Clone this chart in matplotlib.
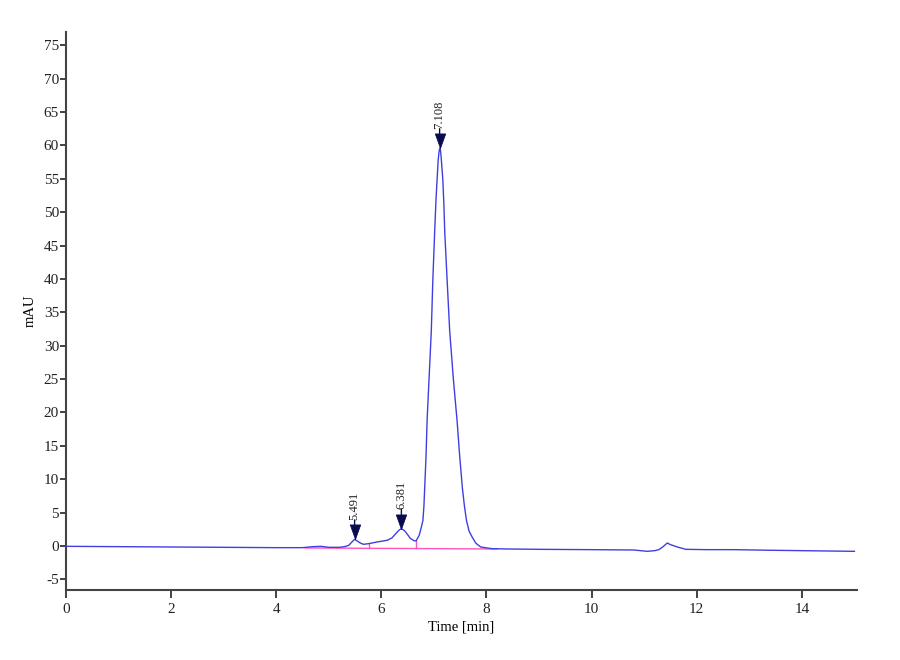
import numpy as np
import matplotlib
matplotlib.use("Agg")
import matplotlib.pyplot as plt

# chromatogram trace (time in min, signal in mAU)
time_min = [0.0, 1.0, 2.0, 3.0, 4.0, 4.5, 4.7, 4.85, 5.0, 5.2, 5.3, 5.38, 5.44,
            5.49, 5.55, 5.6, 5.66, 5.76, 5.92, 6.11, 6.2, 6.28, 6.34, 6.38,
            6.44, 6.5, 6.55, 6.62, 6.66, 6.72, 6.76, 6.79, 6.81, 6.825, 6.85,
            6.87, 6.91, 6.95, 6.98, 7.015, 7.04, 7.06, 7.08, 7.095, 7.11,
            7.125, 7.14, 7.17, 7.19, 7.205, 7.25, 7.3, 7.37, 7.44, 7.49, 7.54,
            7.58, 7.62, 7.67, 7.73, 7.8, 7.89, 8.1, 8.4, 9.0, 10.0, 10.8,
            11.06, 11.2, 11.28, 11.36, 11.44, 11.5, 11.54, 11.63, 11.7, 11.79,
            12.2, 12.7, 13.5, 14.49, 15.0]
mau = [-0.05, -0.1, -0.15, -0.2, -0.25, -0.25, -0.1, -0.05, -0.2, -0.2, -0.1,
       0.1, 0.6, 1.0, 0.7, 0.45, 0.25, 0.35, 0.6, 0.85, 1.2, 1.9, 2.4, 2.6,
       2.3, 1.7, 1.15, 0.8, 0.75, 1.6, 2.8, 3.8, 6.0, 8.8, 13.5, 18.8, 25.5,
       32.2, 40.0, 47.2, 52.0, 54.8, 57.7, 58.9, 59.6, 59.3, 58.0, 54.8, 51.0,
       47.2, 40.0, 32.2, 25.0, 18.8, 13.5, 8.8, 6.0, 3.8, 2.2, 1.3, 0.4,
       -0.15, -0.4, -0.45, -0.5, -0.55, -0.6, -0.8, -0.7, -0.55, -0.1, 0.45,
       0.2, 0.1, -0.15, -0.3, -0.5, -0.55, -0.55, -0.65, -0.75, -0.8]

# integration baseline and drop lines
base_t = [4.55, 8.2]
base_v = [-0.3, -0.45]
drop_t = [5.76, 6.66]
drop_lo = [-0.33, -0.36]
drop_hi = [0.35, 0.75]

# labelled peaks
peak_t = [5.491, 6.381, 7.108]
peak_v = [1.0, 2.6, 59.6]
peak_labels = ["5.491", "6.381", "7.108"]

xticks = [0, 2, 4, 6, 8, 10, 12, 14]
yticks = [-5, 0, 5, 10, 15, 20, 25, 30, 35, 40, 45, 50, 55, 60, 65, 70, 75]

plt.rcParams["font.family"] = ["Liberation Serif", "DejaVu Serif"]
plt.rcParams["axes.unicode_minus"] = False

fig = plt.figure(figsize=(9, 6.6), dpi=100)
ax = fig.add_axes([0.0733, 0.106, 0.879, 0.8455])

ax.plot(base_t, base_v, color="#ff55bb", lw=1.0, zorder=2)
for t, lo, hi in zip(drop_t, drop_lo, drop_hi):
    ax.plot([t, t], [lo, hi], color="#ff55bb", lw=1.0, zorder=2)

ax.plot(time_min, mau, color="#3f3fe0", lw=1.0, zorder=3)

# downward triangle with its tip on the apex
tri = [(0, 0), (-0.36, 1), (0.36, 1), (0, 0)]
ax.plot(peak_t, peak_v, linestyle="none", marker=tri, markersize=21,
        color="#0a0a50", markeredgewidth=0.5, zorder=4)
for t, v, lab in zip(peak_t, peak_v, peak_labels):
    ax.annotate("", xy=(t, v), xytext=(0, 14), textcoords="offset points",
                arrowprops=dict(arrowstyle="-", color="#0a0a50", lw=1.0,
                                shrinkA=0, shrinkB=9))
    ax.annotate(lab, xy=(t, v), xytext=(0, 14), textcoords="offset points",
                rotation=90, ha="center", va="bottom", fontsize=9,
                color="#222222")

ax.set_xlim(0, 15.05)
ax.set_ylim(-6.6, 77)
ax.set_xticks(xticks)
ax.set_yticks(yticks)
ax.tick_params(axis="both", direction="out", labelsize=11, colors="#222222")
ax.tick_params(axis="x", length=6, width=1.2)
ax.tick_params(axis="y", length=4, width=1.2, pad=1)

for side in ["top", "right"]:
    ax.spines[side].set_visible(False)
for side in ["left", "bottom"]:
    ax.spines[side].set_linewidth(1.5)
    ax.spines[side].set_color("#444444")

ax.set_xlabel("Time [min]", fontsize=10.5, labelpad=3)
ax.set_ylabel("mAU", fontsize=10.5, labelpad=5)

fig.savefig("out.png", dpi=100)
